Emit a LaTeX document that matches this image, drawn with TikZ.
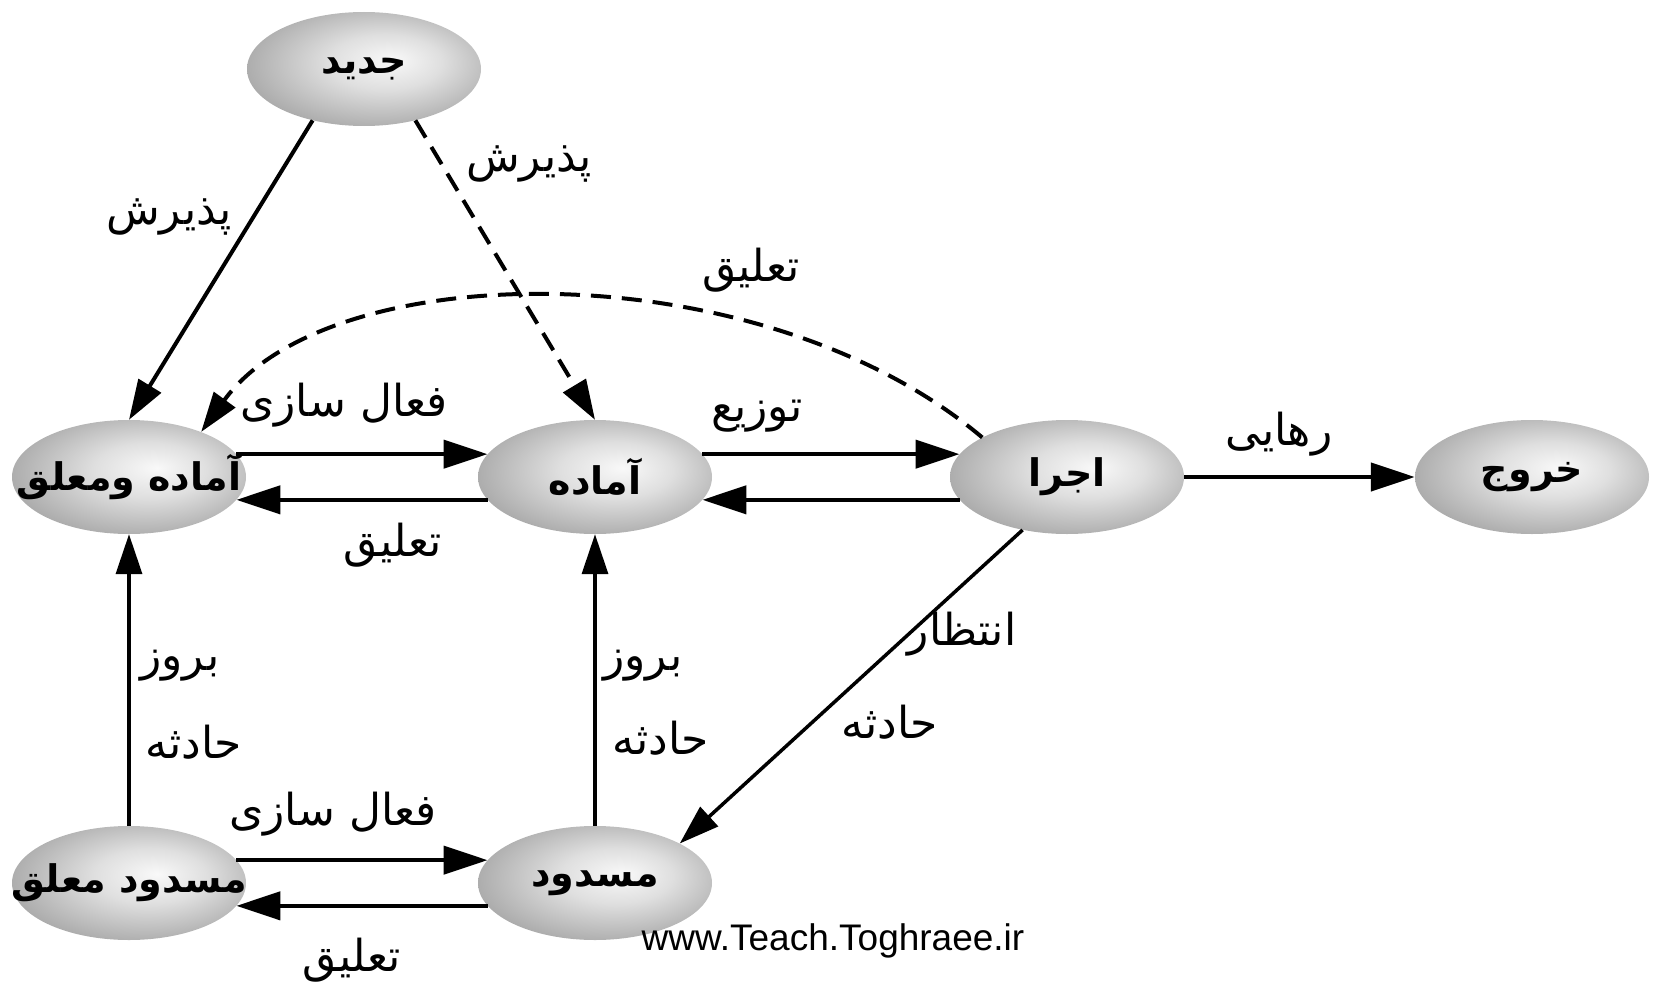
\documentclass[tikz,border=0pt]{standalone}
\usepackage{fontspec}
\usepackage{tikz}
\usetikzlibrary{arrows.meta}
\usetikzlibrary{shapes}
\setmainfont{Liberation Sans}
\newfontfamily\farsifont[Script=Arabic]{DejaVu Sans}
\TeXXeTstate=1
\newcommand{\fatext}[1]{{\farsifont\beginR #1\endR}}
\pgfdeclareradialshading{stateshade}{\pgfpoint{6bp}{4bp}}{color(0bp)=(gray!5); color(12bp)=(gray!25); color(24bp)=(gray!55); color(34bp)=(gray!80); color(50bp)=(gray!92)}

\begin{document}
\begin{tikzpicture}[x=1pt,y=1pt,yscale=-1,xscale=1,
  state/.style={ellipse,shading=stateshade,minimum width=234,minimum height=114,inner xsep=-40pt,inner ysep=0pt,font=\fontsize{38}{40}\selectfont\bfseries},
  lbl/.style={inner sep=0.75pt,font=\fontsize{44}{48}\selectfont},
  arr/.style={line width=3.5,-{Triangle[length=40,width=26]}},
  harr/.style={line width=4.5,-{Triangle[length=44,width=28]}},
  darr/.style={arr,line width=4,dash pattern=on 20 off 11}]
\useasboundingbox (0,0) rectangle (1658,990);

% States
\node [state] (jadid) at (364,69) {\fatext{جدید}};
\node [state] (amoalagh) at (129,477) {\fatext{آماده ومعلق}};
\node [state] (amadeh) at (595,477) {\fatext{آماده}};
\node [state] (ejra) at (1067,477) {\fatext{اجرا}};
\node [state] (khoruj) at (1532,477) {\fatext{خروج}};
\node [state] (mmoalagh) at (129,883) {\fatext{مسدود معلق}};
\node [state] (masdud) at (595,883) {\fatext{مسدود}};

%Straight Lines
\draw [arr,line width=4] (jadid.225) -- (amoalagh.north);
\draw [darr] (jadid.-45) -- (amadeh.north);
\draw [darr] (ejra.155) .. controls (760,250) and (330,255) .. (amoalagh.32);
\draw [harr] (amoalagh.12) -- (amadeh.168);
\draw [harr] (amadeh.192) -- (amoalagh.-12);
\draw [harr] (amadeh.12) -- (ejra.168);
\draw [harr] (ejra.192) -- (amadeh.-12);
\draw [harr] (ejra) -- (khoruj);
\draw [arr] (ejra.230) -- (masdud.25);
\draw [arr] (masdud) -- (amadeh);
\draw [arr] (mmoalagh) -- (amoalagh);
\draw [harr] (mmoalagh.12) -- (masdud.168);
\draw [harr] (masdud.192) -- (mmoalagh.-12);

% Text Node
\node [lbl] (paziresh1) at (169,217) {\fatext{پذیرش}};
\node [lbl] (paziresh2) at (529,164) {\fatext{پذیرش}};
\node [lbl] (taliq1) at (751,270) {\fatext{تعلیق}};
\node [lbl] (faal1) at (344,405) {\fatext{فعال سازی}};
\node [lbl] (taliq2) at (393,545) {\fatext{تعلیق}};
\node [lbl] (tozi) at (757,416) {\fatext{توزیع}};
\node [lbl] (rahayi) at (1279,434) {\fatext{رهایی}};
\node [lbl] (entezar) at (962,634) {\fatext{انتظار}};
\node [lbl] (hadeseh1) at (890,722) {\fatext{حادثه}};
\node [lbl] (boruz2) at (643,666) {\fatext{بروز}};
\node [lbl] (hadeseh2) at (661,738) {\fatext{حادثه}};
\node [lbl] (boruz1) at (180,666) {\fatext{بروز}};
\node [lbl] (hadeseh3) at (194,742) {\fatext{حادثه}};
\node [lbl] (faal2) at (333,814) {\fatext{فعال سازی}};
\node [lbl] (taliq3) at (352,960) {\fatext{تعلیق}};
\node [lbl,font=\fontsize{37}{40}\selectfont] (site) at (833,941) {www.Teach.Toghraee.ir};

\end{tikzpicture}
\end{document}
